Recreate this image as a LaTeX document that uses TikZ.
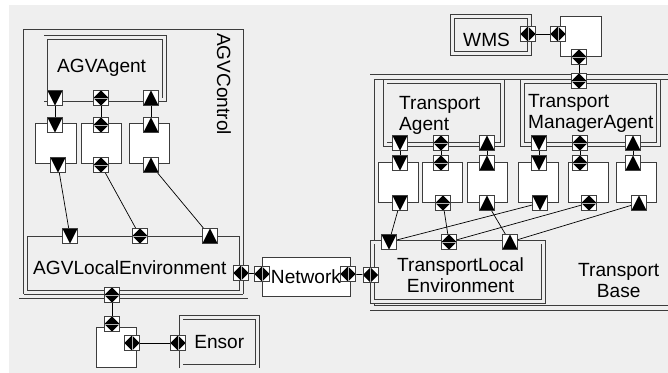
\documentclass[tikz,border=0pt]{standalone}
\usepackage{fontspec}
\setmainfont{Liberation Sans}
\definecolor{fondo}{RGB}{239,239,239}
\definecolor{borde}{RGB}{60,60,60}
\begin{document}
\begin{tikzpicture}[
    x=0.03cm, y=-0.03cm,
    every node/.style={font=\fontsize{16.3}{18}\selectfont},
    grande/.style={draw=borde, line width=0.7pt, double=fondo, double distance=0.12cm, inner sep=0},
    componente/.style={draw=borde, line width=0.7pt, double=fondo, double distance=0.09cm, inner sep=0},
    caja/.style={draw=borde, line width=0.7pt, fill=white, minimum width=1.2cm, minimum height=1.2cm, inner sep=0},
    etiqueta/.style={inner sep=0, anchor=base west, align=left},
    puerto/.style={draw=black!75, line width=0.5pt, fill=white, minimum size=0.46cm, inner sep=0},
    pbaja/.style={puerto, path picture={\fill[black] (path picture bounding box.north west) -- (path picture bounding box.north east) -- (path picture bounding box.south) -- cycle;}},
    psube/.style={puerto, path picture={\fill[black] (path picture bounding box.south west) -- (path picture bounding box.south east) -- (path picture bounding box.north) -- cycle;}},
    pdiav/.style={puerto, path picture={\fill[black] (path picture bounding box.north) -- (path picture bounding box.east) -- (path picture bounding box.south) -- (path picture bounding box.west) -- cycle;
        \draw[gray!60, line width=0.3pt] (path picture bounding box.west) -- (path picture bounding box.east);}},
    pdiah/.style={puerto, path picture={\fill[black] (path picture bounding box.north) -- (path picture bounding box.east) -- (path picture bounding box.south) -- (path picture bounding box.west) -- cycle;
        \draw[gray!60, line width=0.3pt] (path picture bounding box.north) -- (path picture bounding box.south);}},
    enlace/.style={draw=black, line width=0.6pt}
]
% Fondo
\useasboundingbox (0,0) rectangle (668,373);
\clip (0,0) rectangle (668,373);
\fill[white] (0,0) rectangle (668,373);
\fill[fondo] (9,5) rectangle (668,373);
% AGVControl
\node[grande, minimum width=6.72cm, minimum height=8.055cm] (agvcontrol) at (133.5,161.75) {};
\node[inner sep=0, rotate=-90] (agvcontroltxt) at (224,84) {AGVControl};
\node[componente, minimum width=3.555cm, minimum height=1.875cm] (agvagent) at (105.25,68.75) {};
\node[etiqueta] (agvagenttxt) at (57,72.5) {AGVAgent};
\node[componente, minimum width=6.45cm, minimum height=1.725cm] (agvlocal) at (133.5,263.75) {};
\node[etiqueta] (agvlocaltxt) at (33,275) {AGVLocalEnvironment};
\node[caja, minimum width=1.23cm] (agvcaja1) at (55.5,143) {};
\node[caja] (agvcaja2) at (101,143) {};
\node[caja] (agvcaja3) at (149,143) {};
% Ensor
\node[caja] (ensorcaja) at (116,347) {};
\node[componente, minimum width=2.295cm, minimum height=1.449cm] (ensor) at (219.25,341.85) {Ensor};
% Network
\node[caja, minimum width=2.64cm, minimum height=1.17cm] (network) at (306,276.5) {Network};
% TransportBase
\node[grande, minimum width=9.825cm, minimum height=6.92cm] (transportbase) at (536.25,192.65) {};
\node[etiqueta, align=center] (transportbasetxt) at (578,298) {Transport\\Base};
\node[componente, minimum width=3.525cm, minimum height=1.89cm] (transportagent) at (443.75,113) {};
\node[etiqueta] (transportagenttxt) at (399,131) {Transport\\Agent};
\node[componente, minimum width=4.08cm, minimum height=1.89cm] (manageragent) at (590.5,113) {};
\node[etiqueta] (manageragenttxt) at (528,129) {Transport\\ManagerAgent};
\node[componente, minimum width=5.124cm, minimum height=1.79cm] (tlocal) at (458,271.85) {};
\node[etiqueta, align=center] (tlocaltxt) at (397,293) {TransportLocal\\Environment};
\node[caja] (tcaja1) at (398,182) {};
\node[caja] (tcaja2) at (442.5,182) {};
\node[caja] (tcaja3) at (487,182) {};
\node[caja] (tcaja4) at (538,182) {};
\node[caja] (tcaja5) at (588,182) {};
\node[caja] (tcaja6) at (636,182) {};
% WMS
\node[componente, minimum width=2.31cm, minimum height=1.113cm] (wms) at (491,35.25) {};
\node[etiqueta] (wmstxt) at (463,47) {WMS};
\node[caja, minimum width=1.23cm] (wmscaja) at (580.5,36) {};
% Puertos AGV
\node[pbaja] (agvagent-p1) at (55,98) {};
\node[pdiav] (agvagent-p2) at (101,98) {};
\node[psube] (agvagent-p3) at (151,98) {};
\node[pbaja] (agvcaja1-a) at (55,125) {};
\node[pdiav] (agvcaja2-a) at (101,125) {};
\node[psube] (agvcaja3-a) at (151,125) {};
\node[pbaja] (agvcaja1-b) at (58,165) {};
\node[pdiav] (agvcaja2-b) at (101,165) {};
\node[psube] (agvcaja3-b) at (151,165) {};
\node[pbaja] (agvlocal-p1) at (70,236) {};
\node[pdiav] (agvlocal-p2) at (140,236) {};
\node[psube] (agvlocal-p3) at (210,236) {};
\node[pdiah] (agvlocal-der) at (241,273) {};
\node[pdiav] (agvlocal-abj) at (112,295) {};
\node[pdiav] (ensorcaja-a) at (112,324) {};
\node[pdiah] (ensorcaja-d) at (132,343) {};
\node[pdiah] (ensor-izq) at (178,343) {};
% Puertos Network
\node[pdiah] (network-izq) at (262,274) {};
\node[pdiah] (network-der) at (348,274) {};
% Puertos Transport
\node[pdiah] (tlocal-izq) at (370.5,275) {};
\node[pbaja] (tlocal-p1) at (389,242) {};
\node[pdiav] (tlocal-p2) at (449,242) {};
\node[psube] (tlocal-p3) at (510,242) {};
\node[pbaja] (transportagent-p1) at (400,143) {};
\node[pdiav] (transportagent-p2) at (441,143) {};
\node[psube] (transportagent-p3) at (487,143) {};
\node[pbaja] (manageragent-p1) at (539,143) {};
\node[pdiav] (manageragent-p2) at (580,143) {};
\node[psube] (manageragent-p3) at (633,143) {};
\node[pdiav] (manageragent-arr) at (579,81) {};
\node[pbaja] (tcaja1-a) at (400,163) {};
\node[pdiav] (tcaja2-a) at (441,163) {};
\node[psube] (tcaja3-a) at (487,163) {};
\node[pbaja] (tcaja4-a) at (539,163) {};
\node[pdiav] (tcaja5-a) at (580,163) {};
\node[psube] (tcaja6-a) at (633,163) {};
\node[pbaja] (tcaja1-b) at (400,203) {};
\node[pdiav] (tcaja2-b) at (443,203) {};
\node[psube] (tcaja3-b) at (487,203) {};
\node[pbaja] (tcaja4-b) at (540,203) {};
\node[pdiav] (tcaja5-b) at (589,203) {};
\node[psube] (tcaja6-b) at (639,203) {};
% Puertos WMS
\node[pdiah] (wms-der) at (528,34) {};
\node[pdiah] (wmscaja-izq) at (558,34) {};
\node[pdiav] (wmscaja-abj) at (579,57) {};
% Enlaces
\draw[enlace] (agvagent-p1) -- (agvcaja1-a);
\draw[enlace] (agvagent-p2) -- (agvcaja2-a);
\draw[enlace] (agvagent-p3) -- (agvcaja3-a);
\draw[enlace] (agvcaja1-b) -- (agvlocal-p1);
\draw[enlace] (agvcaja2-b) -- (agvlocal-p2);
\draw[enlace] (agvcaja3-b) -- (agvlocal-p3);
\draw[enlace] (agvlocal-abj) -- (ensorcaja-a);
\draw[enlace] (ensorcaja-d) -- (ensor-izq);
\draw[enlace] (agvlocal-der) -- (network-izq);
\draw[enlace] (network-der) -- (tlocal-izq);
\draw[enlace] (transportagent-p1) -- (tcaja1-a);
\draw[enlace] (transportagent-p2) -- (tcaja2-a);
\draw[enlace] (transportagent-p3) -- (tcaja3-a);
\draw[enlace] (manageragent-p1) -- (tcaja4-a);
\draw[enlace] (manageragent-p2) -- (tcaja5-a);
\draw[enlace] (manageragent-p3) -- (tcaja6-a);
\draw[enlace] (tcaja1-b) -- (tlocal-p1);
\draw[enlace] (tcaja2-b) -- (tlocal-p2);
\draw[enlace] (tcaja3-b) -- (tlocal-p3);
\draw[enlace] (tcaja4-b) -- (tlocal-p1);
\draw[enlace] (tcaja5-b) -- (tlocal-p2);
\draw[enlace] (tcaja6-b) -- (tlocal-p3);
\draw[enlace] (wms-der) -- (wmscaja-izq);
\draw[enlace] (wmscaja-abj) -- (manageragent-arr);
\end{tikzpicture}
\end{document}
